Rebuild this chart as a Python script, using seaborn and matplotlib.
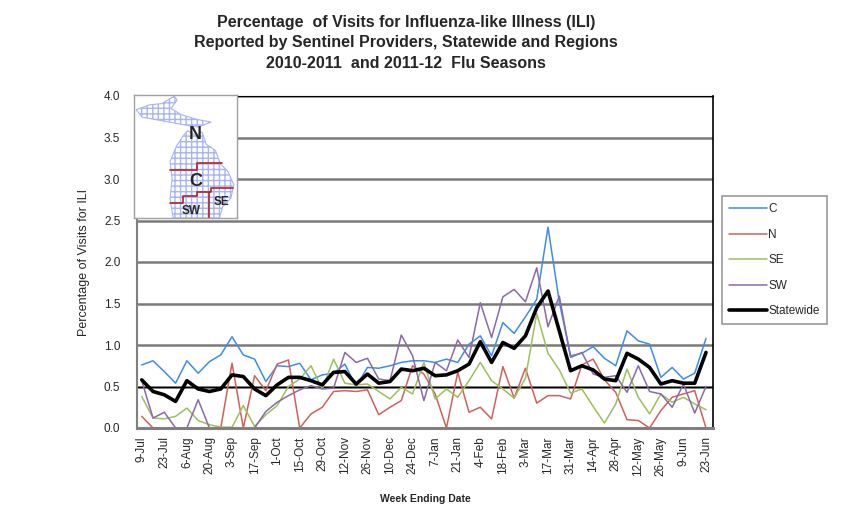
import pandas as pd
import matplotlib
matplotlib.use("Agg")
import matplotlib.pyplot as plt
from matplotlib.patches import Polygon
import seaborn as sns

# week ending dates, 9-Jul-2011 .. 23-Jun-2012
weeks = pd.date_range("2011-07-09", "2012-06-23", freq="7D")
week_labels = [f"{d.day}-{d.strftime('%b')}" for d in weeks]

c_vals = [0.76, 0.81, 0.68, 0.54, 0.81, 0.66, 0.80, 0.88, 1.10, 0.88,
          0.83, 0.56, 0.75, 0.74, 0.78, 0.58, 0.64, 0.66, 0.77, 0.50,
          0.73, 0.72, 0.75, 0.79, 0.81, 0.81, 0.79, 0.83, 0.79, 1.01,
          1.11, 0.87, 1.27, 1.14, 1.34, 1.55, 2.42, 1.52, 0.87, 0.90,
          0.98, 0.84, 0.75, 1.17, 1.05, 1.01, 0.61, 0.73, 0.59, 0.66, 1.08]
n_vals = [0.14, 0.00, 0.00, 0.00, 0.00, 0.00, 0.00, 0.00, 0.78, 0.00,
          0.63, 0.45, 0.77, 0.82, 0.00, 0.17, 0.25, 0.44, 0.45, 0.44,
          0.46, 0.16, 0.25, 0.33, 0.75, 0.65, 0.41, 0.00, 0.67, 0.19,
          0.25, 0.11, 0.74, 0.36, 0.72, 0.30, 0.39, 0.39, 0.35, 0.76,
          0.83, 0.58, 0.43, 0.10, 0.09, 0.00, 0.21, 0.37, 0.41, 0.45, 0.00]
se_vals = [0.38, 0.12, 0.11, 0.14, 0.24, 0.09, 0.04, 0.01, 0.01, 0.27,
           0.02, 0.16, 0.27, 0.50, 0.59, 0.75, 0.47, 0.83, 0.54, 0.52,
           0.53, 0.44, 0.35, 0.49, 0.41, 0.79, 0.35, 0.47, 0.37, 0.57,
           0.79, 0.57, 0.47, 0.36, 0.60, 1.38, 0.90, 0.70, 0.42, 0.47,
           0.26, 0.06, 0.29, 0.71, 0.37, 0.17, 0.41, 0.31, 0.37, 0.29, 0.22]
sw_vals = [0.57, 0.12, 0.19, 0.00, 0.00, 0.34, 0.00, 0.00, 0.00, 0.00,
           0.00, 0.20, 0.31, 0.39, 0.46, 0.51, 0.47, 0.48, 0.91, 0.79,
           0.84, 0.59, 0.57, 1.12, 0.87, 0.33, 0.79, 0.69, 1.06, 0.85,
           1.51, 1.09, 1.58, 1.67, 1.52, 1.93, 1.22, 1.59, 0.85, 0.91,
           0.65, 0.61, 0.63, 0.43, 0.75, 0.44, 0.41, 0.25, 0.53, 0.18, 0.50]
state_vals = [0.58, 0.44, 0.40, 0.32, 0.57, 0.47, 0.44, 0.47, 0.64, 0.62,
              0.47, 0.39, 0.52, 0.61, 0.61, 0.57, 0.52, 0.67, 0.68, 0.53,
              0.65, 0.54, 0.56, 0.71, 0.69, 0.72, 0.63, 0.64, 0.69, 0.77,
              1.04, 0.79, 1.03, 0.96, 1.11, 1.45, 1.65, 1.17, 0.69, 0.75,
              0.70, 0.59, 0.57, 0.90, 0.83, 0.73, 0.53, 0.57, 0.54, 0.54, 0.91]
baseline = 0.5

regions = ["C", "N", "SE", "SW", "Statewide"]
series = [c_vals, n_vals, se_vals, sw_vals, state_vals]
colors = {"C": "#3b8cf5", "N": "#d0605c", "SE": "#9cc05a",
          "SW": "#8a6aa8", "Statewide": "#000000"}
widths = {"C": 1.1, "N": 1.1, "SE": 1.1, "SW": 1.1, "Statewide": 2.6}

df = pd.concat([pd.DataFrame({"week": range(len(weeks)), "region": r, "ili": v})
                for r, v in zip(regions, series)])

sns.set_style("white")
plt.rcParams["font.family"] = ["Liberation Sans", "DejaVu Sans"]

fig = plt.figure(figsize=(8.57, 5.18), dpi=100)
ax = fig.add_axes([137 / 857, 1 - 428 / 518, 576 / 857, 332 / 518])

ax.set_ylim(0, 4.0)
ax.set_xlim(-0.42, len(weeks) - 0.38)
ax.set_yticks([i * 0.5 for i in range(9)])
ax.set_yticklabels([f"{i * 0.5:.1f}" for i in range(9)], fontsize=8.5)
ax.yaxis.grid(True, color="#7a7a7a", lw=1.8)
ax.set_axisbelow(True)
ax.axhline(baseline, color="black", lw=1.0, zorder=1.5)

for r in regions:
    sub = df[df.region == r]
    sns.lineplot(data=sub, x="week", y="ili", color=colors[r],
                 lw=widths[r], ax=ax, label=r, zorder=3 if r == "Statewide" else 2)

ax.set_xticks(range(0, len(weeks), 2))
ax.set_xticklabels(week_labels[::2], rotation=90, fontsize=8.5)
ax.tick_params(axis="x", length=0, pad=6)
ax.tick_params(axis="y", length=0, pad=12)
ax.set_xlabel("Week Ending Date", fontsize=7.5, fontweight="bold", labelpad=13)
ax.set_ylabel("Percentage of Visits for ILI", fontsize=9, labelpad=10)

for s in ["left", "bottom"]:
    ax.spines[s].set_color("#808080")
ax.spines["left"].set_linewidth(1.5)
ax.spines["bottom"].set_linewidth(2.2)
ax.spines["top"].set_color("black")
ax.spines["right"].set_color("black")
ax.spines["right"].set_linewidth(1.2)

leg = ax.legend(loc="upper left", bbox_to_anchor=(722 / 857, 1 - 196 / 518),
                bbox_transform=fig.transFigure, frameon=True, fancybox=False,
                shadow=False, fontsize=8.5, handlelength=3.2, handletextpad=0.1,
                labelspacing=1.15, borderpad=0.6, borderaxespad=0)
leg.get_frame().set_edgecolor("#808080")
leg.get_frame().set_linewidth(1.2)

fig.text(406 / 857, 1 - 43 / 518,
         "Percentage  of Visits for Influenza-like Illness (ILI)\n"
         "Reported by Sentinel Providers, Statewide and Regions\n"
         "2010-2011  and 2011-12  Flu Seasons",
         ha="center", va="center", fontsize=11.5, fontweight="bold", linespacing=1.45)

# Michigan region map inset
inset = fig.add_axes([134 / 857, 1 - 218 / 518, 103 / 857, 123 / 518])
inset.set_xlim(0, 1)
inset.set_ylim(0, 1)
inset.set_xticks([])
inset.set_yticks([])
for s in inset.spines.values():
    s.set_color("#a0a0a0")
    s.set_linewidth(1.0)
up = [(0.02, 0.88), (0.15, 0.92), (0.27, 0.93), (0.39, 0.99), (0.42, 0.96),
      (0.36, 0.89), (0.46, 0.84), (0.62, 0.80), (0.75, 0.78), (0.62, 0.74),
      (0.47, 0.76), (0.34, 0.78), (0.21, 0.80), (0.08, 0.82)]
lp = [(0.47, 0.66), (0.52, 0.71), (0.60, 0.67), (0.66, 0.70), (0.70, 0.60),
      (0.79, 0.55), (0.84, 0.44), (0.91, 0.38), (0.97, 0.27), (0.94, 0.16),
      (0.86, 0.09), (0.83, 0.0), (0.38, 0.0), (0.35, 0.16), (0.37, 0.32),
      (0.35, 0.46), (0.41, 0.58)]
for shape in (up, lp):
    inset.add_patch(Polygon(shape, closed=True, facecolor="white",
                            edgecolor="#a8b4f5", hatch="+++", lw=0.8))
red = "#b22222"
inset.plot([0.35, 0.61, 0.61, 0.85], [0.39, 0.39, 0.445, 0.445], color=red, lw=1.2)
inset.plot([0.35, 0.48, 0.48, 0.61, 0.61, 0.75, 0.75, 0.96],
           [0.12, 0.12, 0.175, 0.175, 0.215, 0.215, 0.24, 0.24], color=red, lw=1.2)
inset.plot([0.73, 0.73], [0.21, 0.0], color=red, lw=1.2)
inset.text(0.59, 0.68, "N", fontsize=13, fontweight="bold", ha="center", va="center")
inset.text(0.60, 0.30, "C", fontsize=13, fontweight="bold", ha="center", va="center")
inset.text(0.55, 0.06, "SW", fontsize=8.5, fontweight="bold", ha="center", va="center")
inset.text(0.85, 0.13, "SE", fontsize=8.5, fontweight="bold", ha="center", va="center")

fig.savefig("out.png", dpi=100)
